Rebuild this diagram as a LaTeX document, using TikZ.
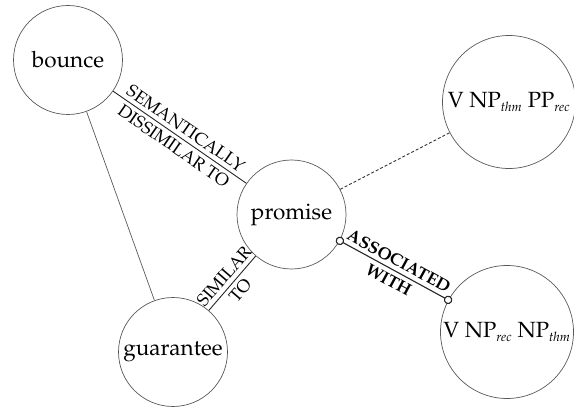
\documentclass[tikz,border=0pt]{standalone}
\usepackage[T1]{fontenc}
\usepackage{mathpazo}
\usetikzlibrary{arrows.meta}

\newcommand{\role}[1]{$_{\mbox{\fontsize{13}{14}\selectfont\itshape #1}}$}

\begin{document}
\begin{tikzpicture}[x=1pt,y=-1pt,
	word/.style={circle, draw=black!65, line width=0.7pt, inner sep=0pt,
		minimum size=109pt, font=\fontsize{22.5}{26}\selectfont},
	frame/.style={word, minimum size=133pt, font=\fontsize{22}{26}\selectfont},
	rel/.style={draw=black!85, line width=0.9pt},
	tag/.style={sloped, inner sep=4pt, font=\fontsize{17.5}{20}\selectfont},
	boldtag/.style={tag, font=\fontsize{17}{20}\selectfont\bfseries},
]

% parameters %{{{2

	\def\dotgap{4pt}

% canvas %{{{2

	\useasboundingbox (0,0) rectangle (574,409);

% verbs %{{{2

	\node[word] (bounce)    at (68,60)    {bounce};
	\node[word] (promise)   at (291.5,214.5) {promise};
	\node[word] (guarantee) at (173,352)  {guarantee};

% frames %{{{2

	\node[frame] (dative)  at (509,102) {V NP\role{thm} PP\role{rec}};
	\node[frame] (double)  at (507,332) {V NP\role{rec} NP\role{thm}};

% verb relations %{{{2

	\draw[rel] (bounce) -- (promise)
		node[tag, midway, above] {SEMANTICALLY}
		node[tag, midway, below] {DISSIMILAR TO};

	\draw[draw=black!65, line width=0.7pt] (bounce) -- (guarantee);

	\draw[rel] (guarantee) -- (promise)
		node[tag, midway, above] {SIMILAR}
		node[tag, midway, below] {TO};

% frame relations %{{{2

	\draw[draw=black!80, line width=0.9pt, dash pattern=on 3pt off 2pt]
		(promise) -- (dative);

	\draw[rel, line width=1.1pt,
		{Circle[open,fill=white,length=8.5pt]}-{Circle[open,fill=white,length=8.5pt]},
		shorten <=-\dotgap, shorten >=-\dotgap] (promise) -- (double)
		node[boldtag, midway, above] {ASSOCIATED}
		node[boldtag, midway, below] {WITH};

% closing %{{{2

\end{tikzpicture}
\end{document}
